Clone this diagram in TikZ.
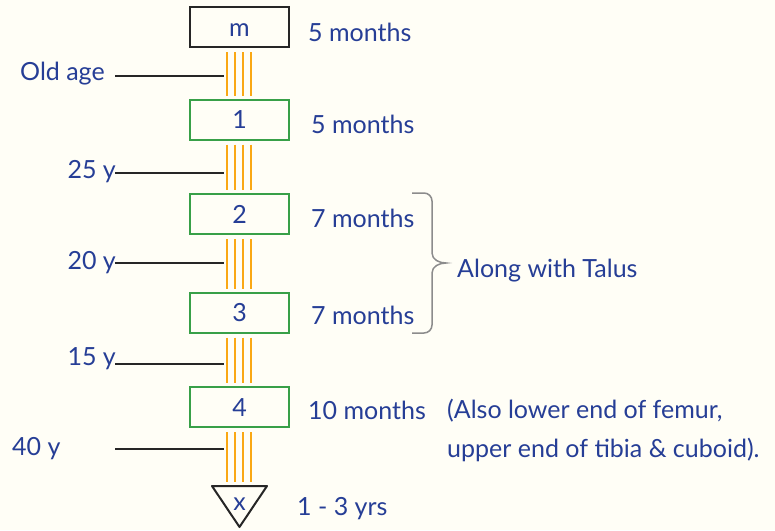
\documentclass[tikz,border=0pt]{standalone}
\usepackage{fontspec}
\setmainfont{Lato}
\definecolor{paper}{RGB}{255,254,246}
\definecolor{ink}{RGB}{38,62,150}
\definecolor{boxgreen}{RGB}{56,160,72}
\definecolor{barorange}{RGB}{250,168,20}
\definecolor{bracegray}{RGB}{140,140,140}
\tikzset{
  lbl/.style={text=ink,font=\fontsize{25}{30}\selectfont,inner sep=0pt},
  bone/.style={draw=boxgreen,line width=2pt,minimum width=99pt,minimum height=40pt,inner sep=0pt,
    text height=18pt,text depth=0pt,lbl},
  bar/.style={barorange,line width=2pt},
  tick/.style={black!85,line width=2pt}
}
\begin{document}
\begin{tikzpicture}[x=1pt,y=-1pt]
\fill[paper] (0,0) rectangle (775,530);
\useasboundingbox (0,0) rectangle (775,530);
% Boxes
\node[bone,draw=black!85] (m) at (239.5,27) {m};
\node[bone] (b1) at (239.5,119.5) {1};
\node[bone] (b2) at (239.5,214) {2};
\node[bone] (b3) at (239.5,312.5) {3};
\node[bone] (b4) at (239.5,407) {4};
\node[inner sep=0pt] (tri) at (239.5,486) {};
\draw[black!85,line width=2pt,line join=round] (212,486) -- (267,486) -- (239.5,527) -- cycle;
\node[lbl,anchor=base] (x) at (239.5,510) {x};
% Orange bars
\foreach \a/\b in {m/b1,b1/b2,b2/b3,b3/b4,b4/tri}
  \foreach \dx in {-12.5,-4.5,3.5,11.5}
    \draw[bar] ([xshift=\dx pt,yshift=-4pt]\a.south) -- ([xshift=\dx pt,yshift=3pt]\b.north);
% Ages
\coordinate (t1) at (115,76);  \coordinate (t1e) at (224,76);
\coordinate (t2) at (115,173); \coordinate (t2e) at (224,173);
\coordinate (t3) at (115,263); \coordinate (t3e) at (224,263);
\coordinate (t4) at (115,364); \coordinate (t4e) at (224,364);
\coordinate (t5) at (115,449); \coordinate (t5e) at (224,449);
\foreach \i in {1,...,5}
  \draw[tick] (t\i) -- (t\i e);
\node[lbl,anchor=base west] (a1) at (20,80) {Old age};
\node[lbl,anchor=base east] (a2) at (116,178) {25 y};
\node[lbl,anchor=base east] (a3) at (116,269) {20 y};
\node[lbl,anchor=base east] (a4) at (116,365) {15 y};
\node[lbl,anchor=base west] (a5) at (12,455) {40 y};
% Times
\node[lbl,anchor=base west] (d0) at (308,41) {5 months};
\node[lbl,anchor=base west] (d1) at (311,133) {5 months};
\node[lbl,anchor=base west] (d2) at (311,227) {7 months};
\node[lbl,anchor=base west] (d3) at (311,324) {7 months};
\node[lbl,anchor=base west] (d4) at (308,419) {10 months};
\node[lbl,anchor=base west] (d5) at (297,515) {1 - 3 yrs};
% Brace
\draw[bracegray,line width=1.5pt] (412,193) -- (424,193) to[out=0,in=90] (432,201) -- (432,253)
  to[out=-90,in=180] (446,263) to[out=180,in=90] (432,273) -- (432,325) to[out=-90,in=0] (424,333) -- (412,333);
\node[lbl,anchor=base west] (talus) at (457,277) {Along with Talus};
% Note
\node[lbl,anchor=base west] (n1) at (447,418) {(Also lower end of femur,};
\node[lbl,anchor=base west] (n2) at (447,457) {upper end of tibia \& cuboid).};
\end{tikzpicture}
\end{document}
